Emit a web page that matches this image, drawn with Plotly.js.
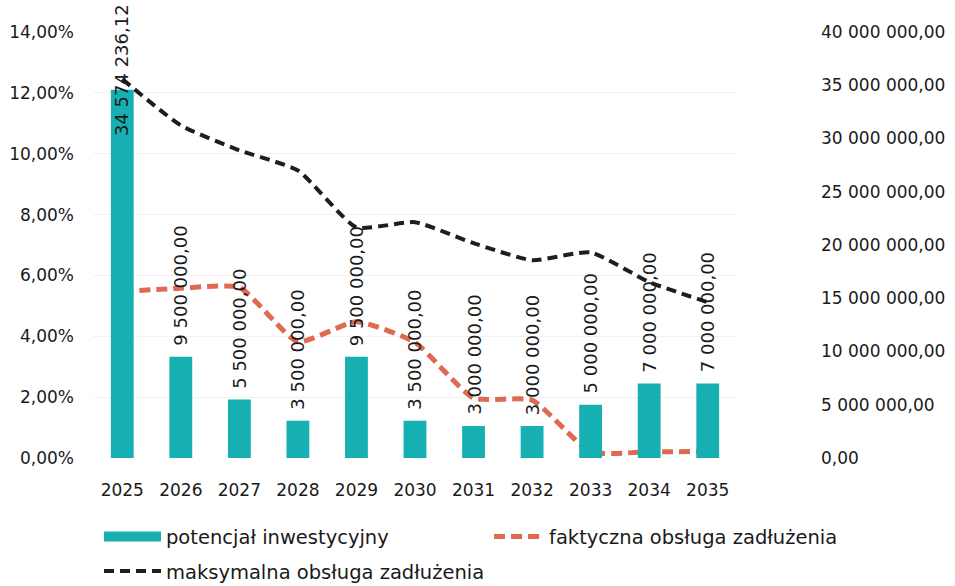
<!DOCTYPE html>
<html>
<head>
<meta charset="utf-8">
<script src="https://cdn.plot.ly/plotly-3.0.1.min.js"></script>
<style>html,body{margin:0;padding:0;background:#fff;}#chart{width:955px;height:586px;}</style>
</head>
<body>
<div id="chart"></div>
<script>
const years = ['2025','2026','2027','2028','2029','2030','2031','2032','2033','2034','2035'];
const potencjal = [34574236.12, 9500000, 5500000, 3500000, 9500000, 3500000, 3000000, 3000000, 5000000, 7000000, 7000000];
const faktyczna = [5.47, 5.58, 5.61, 3.82, 4.48, 3.80, 1.97, 1.90, 0.20, 0.20, 0.22];
const maksymalna = [12.45, 10.93, 10.11, 9.45, 7.58, 7.75, 7.06, 6.50, 6.76, 5.78, 5.12];
const leftTicks = [0, 2, 4, 6, 8, 10, 12, 14];
const rightTicks = [0, 5000000, 10000000, 15000000, 20000000, 25000000, 30000000, 35000000, 40000000];

function fmtPL(v, dec) {
  const parts = v.toFixed(dec).split('.');
  const intPart = parts[0].replace(/\B(?=(\d{3})+(?!\d))/g, ' ');
  return parts.length > 1 ? intPart + ',' + parts[1] : intPart;
}

const FONT = '"DejaVu Sans", sans-serif';
const TXT = '#1a1a1a';
const TEAL = '#17b0b2';
const RED = '#df6a4f';
const BLACK = '#1e1e1e';

const traces = [
  {
    type: 'bar', name: 'potencjał inwestycyjny', x: years, y: potencjal, yaxis: 'y2',
    marker: {color: TEAL}, width: 0.39, showlegend: false, hoverinfo: 'skip'
  },
  {
    type: 'scatter', mode: 'lines', name: 'potencjał inwestycyjny', x: [null], y: [null], yaxis: 'y2',
    line: {color: TEAL, width: 11}, legend: 'legend', showlegend: true
  },
  {
    type: 'scatter', mode: 'lines', name: 'faktyczna obsługa zadłużenia', x: years, y: faktyczna, yaxis: 'y',
    line: {color: RED, width: 5, dash: '11px,6px', shape: 'spline', smoothing: 0.5}, legend: 'legend2'
  },
  {
    type: 'scatter', mode: 'lines', name: 'maksymalna obsługa zadłużenia', x: years, y: maksymalna, yaxis: 'y',
    line: {color: BLACK, width: 4, dash: '10px,6px', shape: 'spline', smoothing: 0.5}, legend: 'legend3'
  }
];

const yMax2 = rightTicks[rightTicks.length - 1];
const annotations = potencjal.map((v, i) => {
  const tooHigh = v > yMax2 * 0.7;
  return {
    x: i, y: v, xref: 'x', yref: 'y2', text: fmtPL(v, 2), showarrow: false,
    textangle: -90, yanchor: tooHigh ? 'middle' : 'bottom', yshift: tooHigh ? 20 : 9,
    font: {family: FONT, size: 18, color: TXT}
  };
});

const legendFont = {family: FONT, size: 19.5, color: TXT};
const layout = {
  width: 955, height: 586,
  margin: {l: 93, r: 218, t: 31.5, b: 128, autoexpand: false},
  paper_bgcolor: '#fff', plot_bgcolor: '#fff',
  font: {family: FONT, size: 17, color: TXT},
  showlegend: true,
  legend: {x: 0.0093, xanchor: 'left', y: -0.185, yanchor: 'middle', itemwidth: 57, font: legendFont, bgcolor: 'rgba(0,0,0,0)'},
  legend2: {x: 0.615, xanchor: 'left', y: -0.185, yanchor: 'middle', itemwidth: 50, font: legendFont, bgcolor: 'rgba(0,0,0,0)'},
  legend3: {x: 0.0093, xanchor: 'left', y: -0.266, yanchor: 'middle', itemwidth: 57, font: legendFont, bgcolor: 'rgba(0,0,0,0)'},
  xaxis: {
    type: 'category', range: [-0.5, years.length - 0.5], showline: false, showgrid: false, zeroline: false, ticks: '',
    ticklabelstandoff: 20, tickfont: {family: FONT, size: 17, color: TXT}
  },
  yaxis: {
    range: [0, 14], tickvals: leftTicks, ticktext: leftTicks.map(t => fmtPL(t, 2) + '%'),
    showgrid: true, gridcolor: '#f1f1f1', zeroline: false, showline: false, ticks: '',
    ticklabelstandoff: 18, tickfont: {family: FONT, size: 17, color: TXT}
  },
  yaxis2: {
    range: [0, yMax2], overlaying: 'y', side: 'right', tickvals: rightTicks,
    ticktext: rightTicks.map(t => fmtPL(t, 2)), showgrid: false, zeroline: false, showline: false,
    ticks: '', ticklabelstandoff: 83, tickfont: {family: FONT, size: 17, color: TXT}
  },
  annotations: annotations
};

Plotly.newPlot('chart', traces, layout, {displayModeBar: false, staticPlot: true});
</script>
</body>
</html>
